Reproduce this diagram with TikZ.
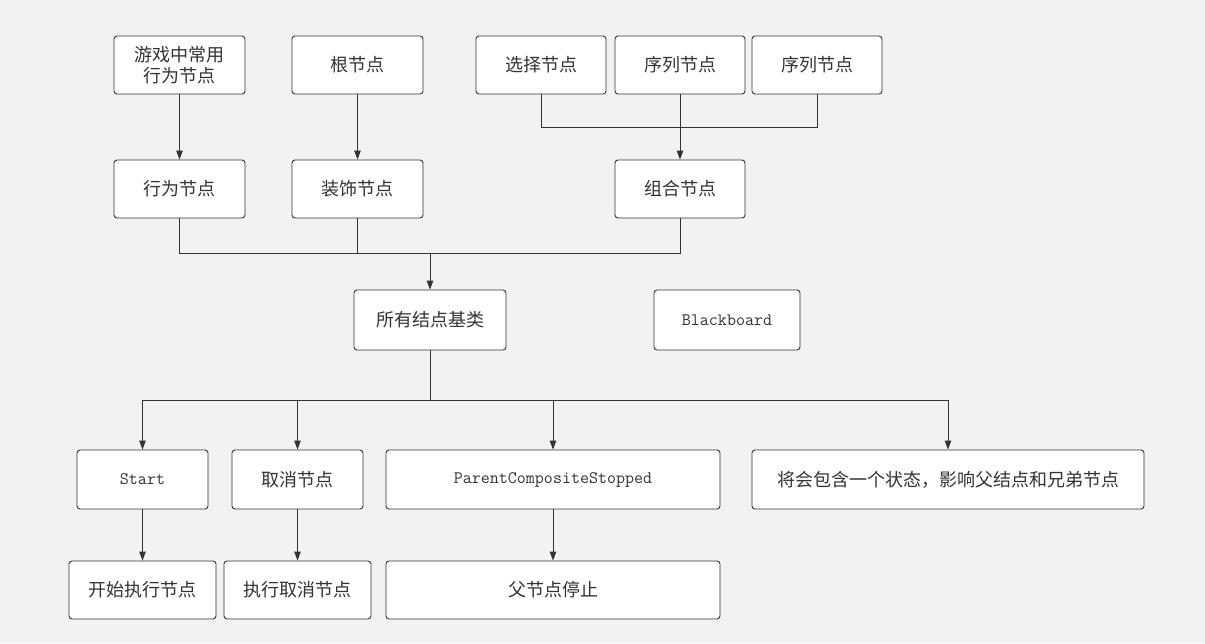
\documentclass[tikz,border=0pt]{standalone}
\usepackage{fontspec}
\newfontfamily\cjk{Noto Sans CJK SC}
\usetikzlibrary{arrows.meta}
\definecolor{bgcol}{HTML}{F2F2F2}
\definecolor{edgecol}{HTML}{333333}
\tikzset{
	box/.style={draw=edgecol, fill=white, text=edgecol, line width=0.9pt, rounded corners=3pt, align=center, inner sep=0pt, minimum height=58pt, font=\cjk\fontsize{18}{21}\selectfont},
	tbox/.style={box, font=\ttfamily\fontsize{17.5}{21}\selectfont},
	link/.style={draw=edgecol, line width=0.9pt},
	arr/.style={link, -{Triangle[length=9pt,width=6.5pt]}}
}

\begin{document}
\begin{tikzpicture}[x=1pt, y=-1pt]
			%%%%% START %%%%%
			
			\fill[bgcol] (0, 0) rectangle (1205, 643);
			
			% top row
			\node[box, minimum width=131pt] (game) at (179.5, 65) {游戏中常用\\行为节点};
			\node[box, minimum width=131pt] (root) at (357.5, 65) {根节点};
			\node[box, minimum width=130pt] (sel) at (541, 65) {选择节点};
			\node[box, minimum width=130pt] (seqa) at (680, 65) {序列节点};
			\node[box, minimum width=130pt] (seqb) at (817, 65) {序列节点};
			
			% second row
			\node[box, minimum width=131pt] (act) at (179.5, 189) {行为节点};
			\node[box, minimum width=131pt] (deco) at (357.5, 189) {装饰节点};
			\node[box, minimum width=130pt] (comp) at (680, 189) {组合节点};
			
			% base class
			\node[box, minimum width=152pt, minimum height=60pt] (base) at (430, 320) {所有结点基类};
			\node[tbox, minimum width=146pt, minimum height=60pt] (bb) at (727, 320) {Blackboard};
			
			% events
			\node[tbox, minimum width=131pt, minimum height=59pt] (start) at (142.5, 479.5) {Start};
			\node[box, minimum width=131pt, minimum height=59pt] (cancel) at (297.5, 479.5) {取消节点};
			\node[tbox, minimum width=334pt, minimum height=59pt] (pcs) at (553, 479.5) {ParentCompositeStopped};
			\node[box, minimum width=392pt, minimum height=59pt] (state) at (948, 479.5) {将会包含一个状态，影响父结点和兄弟节点};
			
			% results
			\node[box, minimum width=147pt] (startx) at (142.5, 590) {开始执行节点};
			\node[box, minimum width=147pt] (cancelx) at (297.5, 590) {执行取消节点};
			\node[box, minimum width=334pt] (stop) at (553, 590) {父节点停止};
			
			% junctions
			\coordinate (jtop) at (680, 127);
			\coordinate (jmid) at (430, 253);
			\coordinate (jlow) at (430, 400);
			
			\draw[arr] (game) -- (act);
			\draw[arr] (root) -- (deco);
			\draw[link] (sel) |- (jtop);
			\draw[link] (seqb) |- (jtop);
			\draw[arr] (seqa) -- (comp);
			
			\draw[link] (act) |- (jmid);
			\draw[link] (comp) |- (jmid);
			\draw[link] (deco.south) -- (deco.south |- jmid);
			\draw[arr] (jmid) -- (base);
			
			\draw[link] (base) -- (jlow);
			\draw[arr] (jlow) -| (start);
			\draw[arr] (jlow) -| (cancel);
			\draw[arr] (jlow) -| (pcs);
			\draw[arr] (jlow) -| (state);
			
			\draw[arr] (start) -- (startx);
			\draw[arr] (cancel) -- (cancelx);
			\draw[arr] (pcs) -- (stop);
			
			%%%%% END %%%%%
		\end{tikzpicture}
\end{document}
